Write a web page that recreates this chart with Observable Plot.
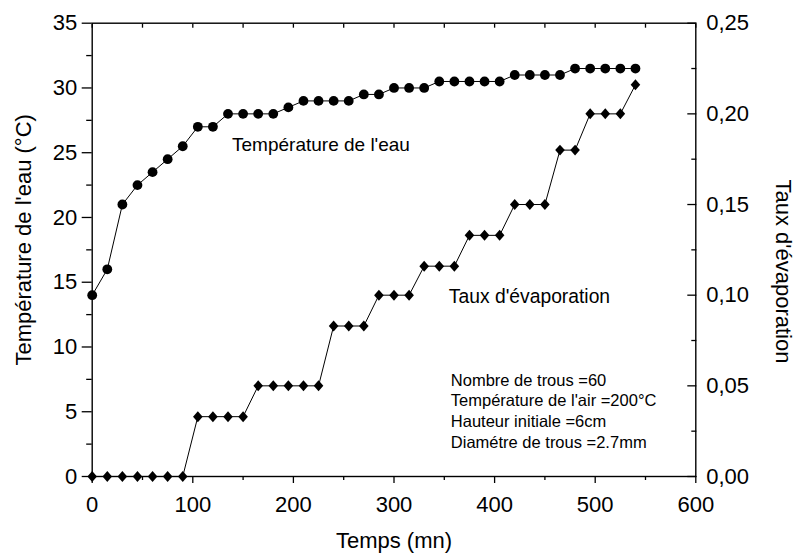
<!DOCTYPE html>
<html>
<head>
<meta charset="utf-8">
<script src="https://cdn.jsdelivr.net/npm/d3@7"></script>
<script src="https://cdn.jsdelivr.net/npm/@observablehq/plot@0.6"></script>
<style>
  html, body { margin: 0; padding: 0; background: #fff; }
  #chart { width: 795px; height: 559px; }
</style>
</head>
<body>
<div id="chart"></div>
<script>
// ---- data ----
const temps = [0, 15, 30, 45, 60, 75, 90, 105, 120, 135, 150, 165, 180, 195, 210, 225, 240, 255, 270, 285, 300, 315, 330, 345, 360, 375, 390, 405, 420, 435, 450, 465, 480, 495, 510, 525, 540];
const temperatureEau = [14, 16, 21, 22.5, 23.5, 24.5, 25.5, 27, 27, 28, 28, 28, 28, 28.5, 29, 29, 29, 29, 29.5, 29.5, 30, 30, 30, 30.5, 30.5, 30.5, 30.5, 30.5, 31, 31, 31, 31, 31.5, 31.5, 31.5, 31.5, 31.5];
const tauxEvaporation = [0, 0, 0, 0, 0, 0, 0, 0.033, 0.033, 0.033, 0.033, 0.05, 0.05, 0.05, 0.05, 0.05, 0.083, 0.083, 0.083, 0.1, 0.1, 0.1, 0.116, 0.116, 0.116, 0.133, 0.133, 0.133, 0.15, 0.15, 0.15, 0.18, 0.18, 0.2, 0.2, 0.2, 0.216];

const xMajorTicks = [0, 100, 200, 300, 400, 500, 600];
const xMinorTicks = [50, 150, 250, 350, 450, 550];
const xTopTicks = [0, 50, 100, 150, 200, 250, 300, 350, 400, 450, 500, 550, 600];
const yLeftMajor = [0, 5, 10, 15, 20, 25, 30, 35];
const yLeftMinor = [2.5, 7.5, 12.5, 17.5, 22.5, 27.5, 32.5];
const yRightMajor = [0, 0.05, 0.10, 0.15, 0.20, 0.25];
const yRightMinor = [0.025, 0.075, 0.125, 0.175, 0.225];

const xTitle = "Temps (mn)";
const yLeftTitle = "Température de l'eau (°C)";
const yRightTitle = "Taux d'évaporation";
const labelEau = "Température de l'eau";
const labelEvap = "Taux d'évaporation";
const paramLines = ["Nombre de trous =60", "Température de l'air =200°C", "Hauteur initiale =6cm", "Diamétre de trous =2.7mm"];

// ---- build ----
const yMax = 35, eMax = 0.25, k = yMax / eMax; // right axis mapped onto left scale
const rows = temps.map((t, i) => ({t, T: temperatureEau[i], E: tauxEvaporation[i] * k}));
const fmtRight = v => d3.format(".2f")(v / k).replace(".", ",");

const diamondSym = {
  draw(context, size) {
    const r = Math.sqrt(size / Math.PI);
    const h = r * 1.12, w = r * 0.98;
    context.moveTo(0, -h);
    context.lineTo(w, 0);
    context.lineTo(0, h);
    context.lineTo(-w, 0);
    context.closePath();
  }
};

const FS = 22;
const chart = Plot.plot({
  width: 795,
  height: 559,
  marginLeft: 91.7,
  marginRight: 99.7,
  marginTop: 22.7,
  marginBottom: 83,
  x: {domain: [0, 600], label: null},
  y: {domain: [0, yMax], label: null},
  style: {fontFamily: "'Liberation Sans', Arial, sans-serif", background: "#fff", color: "#000", overflow: "visible"},
  marks: [
    // bottom axis
    Plot.axisX({ticks: xMajorTicks, anchor: "bottom", tickSize: 7, tickPadding: 13, fontSize: FS, strokeWidth: 1.3, label: null}),
    Plot.axisX({ticks: xMinorTicks, anchor: "bottom", tickSize: 4, fill: "none", strokeWidth: 1.3, label: null}),
    // top axis (inward ticks)
    Plot.axisX({ticks: xTopTicks, anchor: "top", tickSize: 4, dy: 4, fill: "none", strokeWidth: 1.3, label: null}),
    // left axis
    Plot.axisY({ticks: yLeftMajor, anchor: "left", tickSize: 10, tickPadding: 5, fontSize: FS, strokeWidth: 1.3, label: null}),
    Plot.axisY({ticks: yLeftMinor, anchor: "left", tickSize: 5.5, fill: "none", strokeWidth: 1.3, label: null}),
    // right axis (inward ticks)
    Plot.axisY({ticks: yRightMajor.map(v => v * k), anchor: "right", tickSize: 9, dx: -9, fill: "none", strokeWidth: 1.3, label: null}),
    Plot.axisY({ticks: yRightMinor.map(v => v * k), anchor: "right", tickSize: 5, dx: -5, fill: "none", strokeWidth: 1.3, label: null}),
    Plot.axisY({ticks: yRightMajor.map(v => v * k), anchor: "right", tickSize: 0, tickPadding: 10.4, tickFormat: fmtRight, fontSize: FS, label: null}),
    Plot.frame({stroke: "#000", strokeWidth: 1.4}),
    // series
    Plot.line(rows, {x: "t", y: "T", stroke: "#000", strokeWidth: 1}),
    Plot.dot(rows, {x: "t", y: "T", r: 4.9, fill: "#000", stroke: null}),
    Plot.line(rows, {x: "t", y: "E", stroke: "#000", strokeWidth: 1}),
    Plot.dot(rows, {x: "t", y: "E", r: 4.9, symbol: diamondSym, fill: "#000", stroke: null}),
    // annotations
    Plot.text([labelEau], {x: 139, y: 25.6, text: d => d, textAnchor: "start", lineAnchor: "middle", fontSize: 19, fill: "#000"}),
    Plot.text([labelEvap], {x: 354.5, y: 13.9, text: d => d, textAnchor: "start", lineAnchor: "middle", fontSize: 19.3, fill: "#000"}),
    Plot.text([paramLines.join("\n")], {x: 356.5, y: 5.12, text: d => d, textAnchor: "start", lineAnchor: "middle", fontSize: 16.5, lineHeight: 1.267, fill: "#000"}),
    // axis titles
    Plot.text([xTitle], {frameAnchor: "bottom", dy: 64, text: d => d, textAnchor: "middle", lineAnchor: "middle", fontSize: FS, fill: "#000"}),
    Plot.text([yLeftTitle], {frameAnchor: "left", dx: -68.7, dy: -10, rotate: -90, text: d => d, textAnchor: "middle", lineAnchor: "middle", fontSize: FS, fill: "#000"}),
    Plot.text([yRightTitle], {frameAnchor: "right", dx: 87.5, dy: 21.6, rotate: 90, text: d => d, textAnchor: "middle", lineAnchor: "middle", fontSize: FS, fill: "#000"})
  ]
});
document.getElementById("chart").appendChild(chart);
</script>
</body>
</html>
